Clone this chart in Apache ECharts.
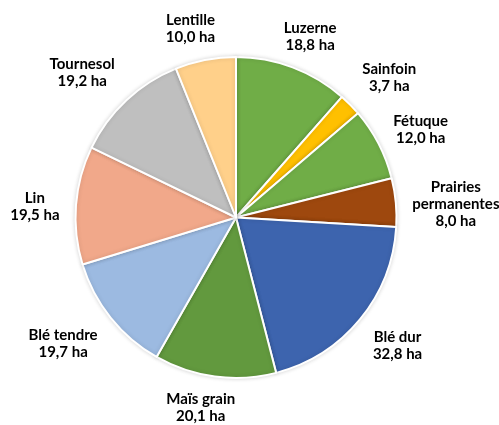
<!DOCTYPE html>
<html>
<head>
<meta charset="utf-8">
<script src="https://cdn.jsdelivr.net/npm/echarts@6/dist/echarts.min.js"></script>
<style>html,body{margin:0;padding:0;background:#fff;}#c{width:499px;height:425px;}</style>
</head>
<body>
<div id="c"></div>
<script>
const categories = ['Luzerne','Sainfoin','Fétuque','Prairies\npermanentes','Blé dur','Maïs grain','Blé tendre','Lin','Tournesol','Lentille'];
const values = [18.8, 3.7, 12.0, 8.0, 32.8, 20.1, 19.7, 19.5, 19.2, 10.0];
const colors = ['#70AD47','#FFC000','#70AD47','#9E480E','#3D64AE','#62993E','#9CBAE1','#F1A88A','#BFBFBF','#FFD08A'];

const CX = 236, CY = 217.5, R = 160.5, GAP = 15.5;

const data = categories.map((c, i) => ({ name: c, value: values[i], itemStyle: { color: colors[i] } }));
const ghost = categories.map((c, i) => ({ name: c, value: values[i] }));
const fmt = v => v.toFixed(1).replace('.', ',') + ' ha';
const smooth = (a, b, t) => { const x = Math.min(1, Math.max(0, (t - a) / (b - a))); return x * x * (3 - 2 * x); };

const chart = echarts.init(document.getElementById('c'), null, { renderer: 'canvas' });
chart.setOption({
  animation: false,
  backgroundColor: '#fff',
  series: [
    {
      type: 'pie',
      center: [CX, CY],
      radius: [0, R],
      startAngle: 90,
      clockwise: true,
      data: data,
      label: { show: false },
      labelLine: { show: false },
      itemStyle: { borderColor: '#fff', borderWidth: 2, shadowBlur: 4, shadowColor: 'rgba(0,0,0,0.15)' },
      emphasis: { disabled: true }
    },
    {
      type: 'pie',
      center: [CX, CY],
      radius: [R, R + 2 * GAP],
      startAngle: 90,
      clockwise: true,
      silent: true,
      data: ghost,
      itemStyle: { color: 'rgba(0,0,0,0)' },
      label: {
        show: true,
        position: 'inside',
        formatter: p => p.name + '\n' + fmt(p.value),
        fontFamily: 'Lato',
        fontWeight: 'bold',
        fontSize: 15,
        lineHeight: 17,
        color: '#000',
        align: 'center'
      },
      labelLayout: function (p) {
        const r = p.labelRect;
        const mx = r.x + r.width / 2, my = r.y + r.height / 2;
        const dx = mx - CX, dy = my - CY;
        const d = Math.sqrt(dx * dx + dy * dy) || 1;
        const ux = dx / d, uy = dy / d;
        const hw = r.width / 2, hh = r.height / 2 - 3;
        const sx = smooth(0.35, 0.68, Math.abs(ux));
        const a = 12 + (hw + 1 - 12) * sx;
        const sy = smooth(0.25, 0.65, Math.abs(uy));
        const b = Math.sign(uy) * (hh + 2) * sy + 3 * (1 - sy);
        const D = R + GAP;
        return { x: CX + D * ux + Math.sign(ux) * a, y: CY + D * uy + b };
      },
      labelLine: { show: false },
      emphasis: { disabled: true }
    }
  ]
});
</script>
</body>
</html>
